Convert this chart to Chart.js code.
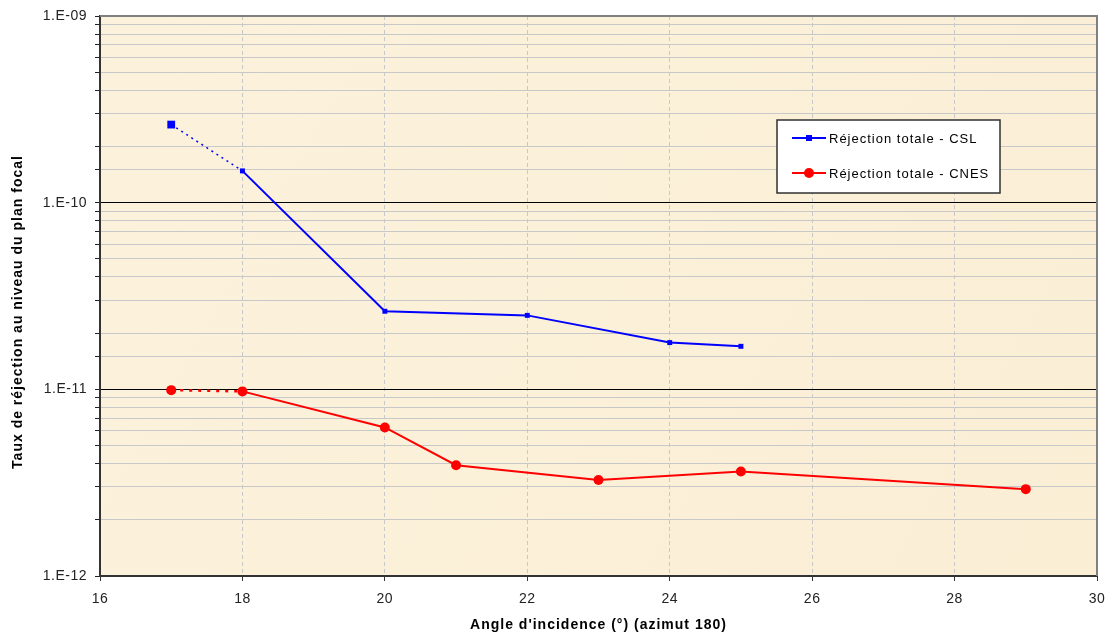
<!DOCTYPE html>
<html>
<head>
<meta charset="utf-8">
<script src="https://cdn.jsdelivr.net/npm/chart.js@4.4.1/dist/chart.umd.min.js"></script>
<style>
  html, body { margin: 0; padding: 0; background: #fff; }
  #wrap { width: 1111px; height: 641px; }
</style>
</head>
<body>
<div id="wrap"><canvas id="chart" width="1111" height="641"></canvas></div>
<script>
// valeurs
var csl_x = [17, 18, 20, 22, 24, 25];
var csl_y = [2.62e-10, 1.48e-10, 2.62e-11, 2.49e-11, 1.78e-11, 1.70e-11];
var cnes_x = [17, 18, 20, 21, 23, 25, 29];
var cnes_y = [9.9e-12, 9.75e-12, 6.25e-12, 3.92e-12, 3.27e-12, 3.63e-12, 2.92e-12];
var x_ticks = [16, 18, 20, 22, 24, 26, 28, 30];
var y_decades = [1e-12, 1e-11, 1e-10, 1e-9];
var legend_labels = ["Réjection totale - CSL", "Réjection totale - CNES"];
var x_title = "Angle d'incidence (°) (azimut 180)";
var y_title = "Taux de réjection au niveau du plan focal";

var BLUE = '#0000ff';
var RED = '#ff0000';
var FONT = '"Liberation Sans", Arial, sans-serif';

function pts(xs, ys) {
	var out = [];
	for (var i = 0; i < xs.length; i++) out.push({x: xs[i], y: ys[i]});
	return out;
}

function isDecade(v) {
	for (var i = 0; i < y_decades.length; i++) {
		if (Math.abs(v - y_decades[i]) / y_decades[i] < 1e-6) return true;
	}
	return false;
}

function fmtDecade(v) {
	var e = Math.round(Math.log10(v));
	var s = Math.abs(e) < 10 ? '0' + Math.abs(e) : '' + Math.abs(e);
	return '1.E' + (e < 0 ? '-' : '+') + s;
}

var plotDecor = {
	id: 'plotDecor',
	beforeDraw: function(chart) {
		var a = chart.chartArea, ctx = chart.ctx;
		// texte un peu espacé comme sur l'original
		ctx.letterSpacing = '0.5px';
		ctx.save();
		var g = ctx.createLinearGradient(a.left, a.top, a.right, a.bottom);
		g.addColorStop(0, '#fcf2dc');
		g.addColorStop(0.5, '#fbf0d8');
		g.addColorStop(1, '#faeed5');
		ctx.fillStyle = g;
		ctx.fillRect(a.left, a.top, a.right - a.left, a.bottom - a.top);
		ctx.restore();
	},
	afterDraw: function(chart) {
		var a = chart.chartArea, ctx = chart.ctx;
		ctx.save();
		// cadre haut / droite
		ctx.strokeStyle = '#808080';
		ctx.lineWidth = 2;
		ctx.beginPath();
		ctx.moveTo(a.left, a.top);
		ctx.lineTo(a.right, a.top);
		ctx.lineTo(a.right, a.bottom);
		ctx.stroke();

		// titres des axes
		ctx.fillStyle = '#000';
		ctx.font = 'bold 14px ' + FONT;
		ctx.letterSpacing = '1px';
		ctx.textAlign = 'center';
		ctx.textBaseline = 'middle';
		ctx.fillText(x_title, (a.left + a.right) / 2, 625);
		ctx.save();
		ctx.translate(18, 312);
		ctx.rotate(-Math.PI / 2);
		ctx.fillText(y_title, 0, 0);
		ctx.restore();

		// légende
		var lx = 777, ly = 120, lw = 223, lh = 73;
		ctx.fillStyle = '#ffffff';
		ctx.fillRect(lx, ly, lw, lh);
		ctx.strokeStyle = '#303030';
		ctx.lineWidth = 1.5;
		ctx.strokeRect(lx, ly, lw, lh);

		var rows = [ly + 18, ly + 53];
		var cols = [BLUE, RED];
		for (var i = 0; i < 2; i++) {
			var y = rows[i];
			ctx.strokeStyle = cols[i];
			ctx.lineWidth = 2;
			ctx.beginPath();
			ctx.moveTo(lx + 15, y);
			ctx.lineTo(lx + 49, y);
			ctx.stroke();
			ctx.fillStyle = cols[i];
			if (i === 0) {
				ctx.fillRect(lx + 29, y - 3, 6, 6);
			} else {
				ctx.beginPath();
				ctx.arc(lx + 32, y, 5, 0, Math.PI * 2);
				ctx.fill();
			}
			ctx.fillStyle = '#000';
			ctx.font = '13px ' + FONT;
			ctx.letterSpacing = '1px';
			ctx.textBaseline = 'middle';
			ctx.textAlign = 'left';
			ctx.fillText(legend_labels[i], lx + 52, y + 1);
		}
		ctx.restore();
	}
};

var config = {
	type: 'line',
	data: {
		datasets: [{
			label: 'csl_dash',
			data: pts(csl_x.slice(0, 2), csl_y.slice(0, 2)),
			borderColor: BLUE,
			borderWidth: 1.5,
			borderDash: [2, 4],
			pointRadius: 0,
			fill: false
		}, {
			label: legend_labels[0],
			data: pts(csl_x, csl_y),
			borderColor: BLUE,
			backgroundColor: BLUE,
			borderWidth: 2,
			pointStyle: 'rect',
			pointRadius: csl_x.map(function(v, i) { return i === 0 ? 5.5 : 3.5; }),
			pointBorderWidth: 0,
			segment: {
				borderColor: function(ctx) { return ctx.p0DataIndex === 0 ? 'rgba(0,0,0,0)' : BLUE; }
			},
			fill: false
		}, {
			label: 'cnes_dash',
			data: pts(cnes_x.slice(0, 2), cnes_y.slice(0, 2)),
			borderColor: RED,
			borderWidth: 2.5,
			borderDash: [3, 6],
			pointRadius: 0,
			fill: false
		}, {
			label: legend_labels[1],
			data: pts(cnes_x, cnes_y),
			borderColor: RED,
			backgroundColor: RED,
			borderWidth: 2,
			pointStyle: 'circle',
			pointRadius: 5,
			pointBorderWidth: 0,
			segment: {
				borderColor: function(ctx) { return ctx.p0DataIndex === 0 ? 'rgba(0,0,0,0)' : RED; }
			},
			fill: false
		}]
	},
	options: {
		responsive: false,
		animation: false,
		layout: { padding: { top: 16, right: 14, left: 0, bottom: 0 } },
		plugins: {
			legend: { display: false },
			tooltip: { enabled: false }
		},
		scales: {
			x: {
				type: 'linear',
				min: 16,
				max: 30,
				afterBuildTicks: function(scale) {
					scale.ticks = x_ticks.map(function(v) { return {value: v}; });
				},
				afterFit: function(scale) {
					scale.height = 65;
					scale.paddingLeft = 0;
					scale.paddingRight = 0;
				},
				ticks: {
					font: { family: FONT, size: 14 },
					color: '#222',
					padding: 10
				},
				grid: {
					color: '#c8c8c8',
					lineWidth: 1,
					tickLength: 5,
					tickColor: '#333'
				},
				border: { color: '#333', width: 2, dash: [4, 3] },
				title: { display: false }
			},
			y: {
				type: 'logarithmic',
				min: 1e-12,
				max: 1e-9,
				afterFit: function(scale) {
					scale.width = 100;
					scale.paddingTop = 0;
					scale.paddingBottom = 0;
				},
				ticks: {
					autoSkip: false,
					font: { family: FONT, size: 14 },
					color: '#222',
					padding: 8,
					callback: function(v) { return isDecade(v) ? fmtDecade(v) : ''; }
				},
				grid: {
					color: function(ctx) { return ctx.tick && isDecade(ctx.tick.value) ? '#000' : '#c8c8c8'; },
					lineWidth: 1,
					tickLength: 5,
					tickColor: '#222'
				},
				border: { color: '#333', width: 2 },
				title: { display: false }
			}
		}
	},
	plugins: [plotDecor]
};

window.myChart = new Chart(document.getElementById('chart'), config);
</script>
</body>
</html>
